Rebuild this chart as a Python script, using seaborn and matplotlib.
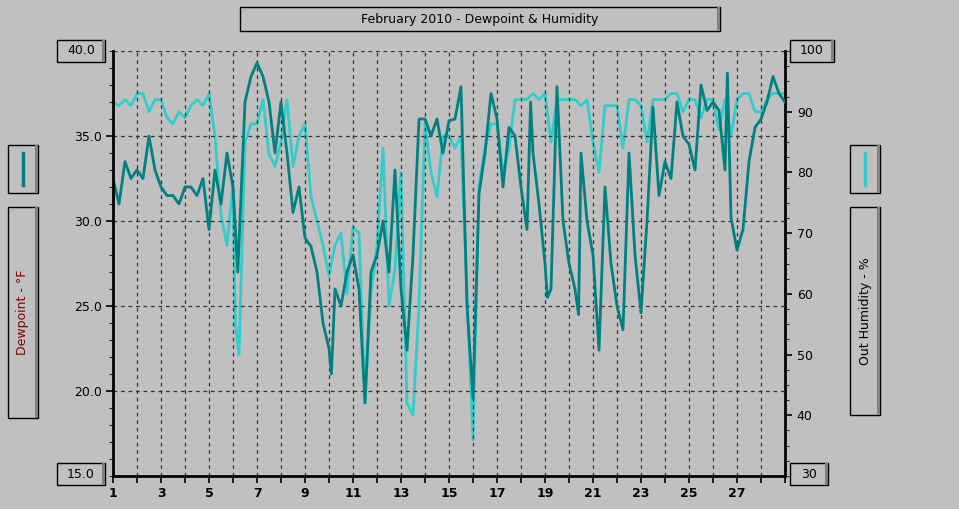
import numpy as np
import pandas as pd
import matplotlib
matplotlib.use("Agg")
import matplotlib.pyplot as plt
from matplotlib.patches import Rectangle
import seaborn as sns

# --- data, day-of-month positions and values ---
dew_day = [1,1.25,1.5,1.75,2,2.25,2.5,2.75,3,3.25,3.5,3.75,4,4.25,4.5,4.75,5,5.25,5.5,5.75,
           6,6.2,6.5,6.75,7,7.25,7.5,7.75,8,8.25,8.5,8.75,9,9.25,9.5,9.75,10,10.1,10.25,10.5,10.75,
           11,11.25,11.5,11.75,12,12.25,12.5,12.75,13,13.25,13.5,13.75,14,14.25,14.5,14.75,
           15,15.25,15.5,15.75,16,16.25,16.5,16.75,17,17.25,17.5,17.75,18,18.25,18.4,18.5,18.75,
           19,19.1,19.25,19.5,19.75,20,20.25,20.4,20.5,20.75,21,21.25,21.5,21.75,22,22.25,22.5,22.75,
           23,23.25,23.5,23.75,24,24.25,24.5,24.75,25,25.25,25.5,25.75,26,26.25,26.5,26.6,26.75,
           27,27.25,27.5,27.75,28,28.25,28.5,28.75,29]
dewpoint = [32.5,31,33.5,32.5,33,32.5,35,33,32,31.5,31.5,31,32,32,31.5,32.5,
            29.5,33,31,34,32,27,37,38.5,39.3,38.5,37,34,37,34,30.5,32,29,28.5,27,24,22.5,21,26,25,27,
            28,26,19.3,27,28,30,27,33,26,22.4,28,36,36,35,36,34,
            35.9,36,37.9,25,19.6,31.6,34,37.5,36,32,35.5,35,32,29.5,37,34,31,
            27.5,25.5,26,37.9,30,27.5,26,24.5,34,30,28,22.4,32,27.5,25,23.6,34,28,
            24.6,30,36.7,31.5,33.5,32.5,37,35,34.5,33,38,36.5,37,36.5,33,38.7,30.2,
            28.3,29.5,33.5,35.5,36,37,38.5,37.5,37]

hum_day = [1,1.25,1.5,1.75,2,2.25,2.5,2.75,3,3.25,3.5,3.75,4,4.25,4.5,4.75,5,5.25,5.5,5.75,
           6,6.1,6.25,6.5,6.75,7,7.25,7.5,7.75,8,8.25,8.5,8.75,9,9.25,9.5,9.75,10,10.25,10.5,10.75,
           11,11.25,11.5,11.75,12,12.25,12.5,12.75,13,13.25,13.5,13.75,14,14.25,14.5,14.75,
           15,15.25,15.5,15.75,16,16.25,16.5,16.75,17,17.25,17.5,17.75,18,18.25,18.5,18.75,
           19,19.25,19.5,19.75,20,20.25,20.5,20.75,21,21.25,21.5,21.75,22,22.25,22.5,22.75,
           23,23.25,23.5,23.75,24,24.25,24.5,24.75,25,25.25,25.5,25.75,26,26.25,26.5,26.75,
           27,27.25,27.5,27.75,28,28.25,28.5,28.75,29]
humidity = [91.5,91,92,91,93,93,90,92,92,89,88,90,89,91,92,91,93,86,73,68,
            78,55,50,85,88,88,92,83,81,85,92,81,86,88,76,72,68,63,68,70,60,
            71,70,42,60,68,84,58,64,80,42,40,58,88,80,76,86,
            86,84,86,60,36,78,84,88,88,80,84,92,92,92,93,92,
            93,85,92,92,92,92,91,92,85,80,91,91,91,84,92,92,
            91,85,92,92,92,93,93,90,92,92,89,92,92,87,92,86,
            92,93,93,90,90,92,93,93,93]

GREY = "#c0c0c0"
DARK = "#008080"
LIGHT = "#33cccc"

dfd = pd.DataFrame({"day": dew_day, "v": dewpoint})
dfh = pd.DataFrame({"day": hum_day, "v": humidity})

W, H = 959, 509
fig = plt.figure(figsize=(W/100, H/100), dpi=100, facecolor=GREY)
L, R, T, B = 113, 785, 51, 476
ax = fig.add_axes([L/W, 1-B/H, (R-L)/W, (B-T)/H])
ax2 = ax.twinx()
ax.set_facecolor(GREY)
ax.set_zorder(2); ax.patch.set_visible(False)
ax2.set_zorder(1); ax2.set_facecolor(GREY)

sns.lineplot(data=dfh, x="day", y="v", ax=ax2, color=LIGHT, lw=2)
sns.lineplot(data=dfd, x="day", y="v", ax=ax, color=DARK, lw=2)

ax.set_xlim(1, 29); ax.set_ylim(15, 40); ax2.set_ylim(30, 100)
ax.set_xticks(range(1, 30))
ax.set_xticklabels([str(d) if d % 2 == 1 and d < 29 else "" for d in range(1, 30)], fontsize=9, fontweight="bold")
ax.set_yticks([20, 25, 30, 35])
ax.set_yticklabels(["20.0", "25.0", "30.0", "35.0"], fontsize=9)
ax.set_yticks(np.arange(15, 40.1, 1), minor=True)
ax2.set_yticks([40, 50, 60, 70, 80, 90])
ax2.set_yticklabels(["40", "50", "60", "70", "80", "90"], fontsize=9)
ax2.set_yticks(np.arange(30, 100.1, 2.5), minor=True)
for a in (ax, ax2):
    a.set_xlabel(""); a.set_ylabel("")
    for s in a.spines.values():
        s.set_visible(False)
ax.grid(True, which="major", color="#333333", ls=(0, (3, 3)), lw=0.9)
ax.tick_params(axis="both", which="major", length=5, width=1.2, pad=3)
ax.tick_params(axis="y", which="minor", length=3)
ax2.tick_params(axis="y", which="major", length=5, width=1.2)
ax2.tick_params(axis="y", which="minor", length=3)
ax.spines["left"].set_visible(True); ax.spines["left"].set_linewidth(2)
ax.spines["bottom"].set_visible(True); ax.spines["bottom"].set_linewidth(2)
ax2.spines["right"].set_visible(True); ax2.spines["right"].set_linewidth(2)
ax.axhline(40, color="#333333", ls=(0, (3, 3)), lw=0.9)

def box(x0, y0, x1, y1, text="", **kw):
    r = Rectangle((x0/W, 1-y1/H), (x1-x0)/W, (y1-y0)/H, transform=fig.transFigure,
                  facecolor=GREY, edgecolor="black", lw=1, zorder=5)
    fig.add_artist(r)
    # bevel shadow
    fig.add_artist(Rectangle(((x1-3)/W, 1-y1/H), 3/W, (y1-y0)/H, transform=fig.transFigure,
                             facecolor="#808080", edgecolor="none", zorder=6))
    if text:
        fig.text((x0+x1)/2/W, 1-(y0+y1)/2/H, text, ha="center", va="center", zorder=7, **kw)

box(240, 7, 720, 31, "February 2010 - Dewpoint & Humidity", fontsize=9)
box(57, 40, 105, 62, "40.0", fontsize=9)
box(57, 463, 105, 485, "15.0", fontsize=9)
box(790, 40, 834, 62, "100", fontsize=9)
box(790, 463, 828, 485, "30", fontsize=9)
box(8, 145, 38, 193)
fig.add_artist(plt.Line2D([23/W, 23/W], [1-153/H, 1-185/H], color=DARK, lw=2.5, zorder=8))
box(8, 207, 38, 418, "Dewpoint - °F", fontsize=9, rotation=90, color="#800000")
box(850, 145, 880, 193)
fig.add_artist(plt.Line2D([865/W, 865/W], [1-153/H, 1-185/H], color=LIGHT, lw=2.5, zorder=8))
box(850, 207, 880, 415, "Out Humidity - %", fontsize=9, rotation=90)

fig.savefig("out.png", dpi=100, facecolor=GREY)
